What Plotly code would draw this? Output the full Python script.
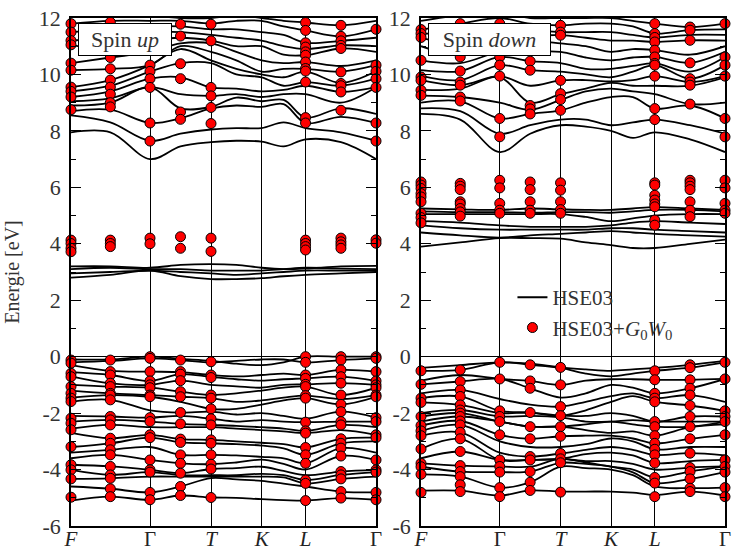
import plotly.graph_objects as go

# k-path positions (fractions of path length)
k_nodes = [0.0, 0.129, 0.259, 0.359, 0.459, 0.542, 0.625, 0.697, 0.769, 0.885, 1.0]
k_tick_vals = [0.0, 0.259, 0.459, 0.625, 0.769, 1.0]
k_tick_text = ["<i>F</i>", "Γ", "<i>T</i>", "<i>K</i>", "<i>L</i>", "Γ"]
gw_cols = [0.0, 0.129, 0.259, 0.359, 0.459, 0.769, 0.885, 1.0]

# ---------------- Spin up: HSE03 bands (values at k_nodes) ----------------
up_valence = [
    [-0.10, -0.10, 0.00, -0.08, -0.15, -0.25, -0.30, -0.20, 0.00, 0.00, 0.00],
    [-0.20, -0.15, -0.06, -0.12, -0.20, -0.15, -0.10, -0.10, -0.20, -0.12, -0.06],
    [-0.30, -0.50, -0.53, -0.55, -0.65, -0.70, -0.65, -0.60, -0.65, -0.47, -0.53],
    [-0.55, -0.65, -0.86, -0.62, -0.72, -0.80, -0.85, -0.80, -0.77, -0.71, -0.86],
    [-0.70, -0.95, -1.00, -0.85, -1.00, -1.05, -1.10, -1.00, -0.98, -0.94, -1.00],
    [-1.00, -1.06, -1.10, -1.24, -1.36, -1.30, -1.20, -1.10, -1.06, -1.36, -1.10],
    [-1.20, -1.30, -1.36, -1.42, -1.47, -1.60, -1.55, -1.45, -1.38, -1.50, -1.36],
    [-1.45, -1.36, -1.42, -1.60, -1.85, -1.85, -1.70, -1.55, -1.47, -1.69, -1.42],
    [-1.60, -1.53, -1.90, -1.98, -1.95, -2.05, -2.00, -2.10, -2.20, -1.95, -2.16],
    [-2.10, -2.12, -2.16, -2.10, -2.20, -2.30, -2.25, -2.30, -2.32, -2.30, -2.30],
    [-2.30, -2.24, -2.30, -2.38, -2.42, -2.45, -2.50, -2.55, -2.63, -2.42, -2.50],
    [-2.55, -2.42, -2.50, -2.50, -2.50, -2.55, -2.60, -2.65, -2.71, -2.60, -2.77],
    [-2.70, -2.89, -2.77, -2.92, -2.95, -3.00, -3.05, -3.10, -3.22, -2.91, -2.87],
    [-3.20, -3.07, -2.87, -3.04, -3.07, -3.10, -3.15, -3.25, -3.48, -3.07, -3.00],
    [-3.40, -3.30, -3.20, -3.48, -3.48, -3.50, -3.55, -3.60, -3.78, -3.24, -3.40],
    [-3.60, -3.48, -3.66, -3.78, -3.81, -3.75, -3.65, -3.80, -4.00, -3.52, -3.66],
    [-3.83, -3.89, -4.01, -4.13, -3.98, -3.95, -3.90, -4.05, -4.20, -4.07, -4.01],
    [-4.01, -4.19, -4.09, -4.20, -4.20, -4.20, -4.15, -4.20, -4.37, -4.19, -4.09],
    [-4.33, -4.31, -4.25, -4.25, -4.25, -4.25, -4.25, -4.28, -4.49, -4.33, -4.25],
    [-4.60, -4.68, -4.81, -4.60, -4.30, -4.35, -4.40, -4.50, -4.60, -4.78, -4.81],
    [-5.10, -4.96, -5.07, -4.92, -4.99, -5.00, -5.05, -5.08, -5.10, -5.01, -5.07],
]
up_mid = [
    [3.20, 3.20, 3.15, 3.25, 3.28, 3.25, 3.15, 3.10, 3.12, 3.20, 3.22],
    [3.10, 3.15, 3.10, 3.10, 3.05, 3.05, 3.05, 3.10, 3.15, 3.12, 3.10],
    [2.95, 3.00, 3.05, 3.00, 2.95, 2.90, 2.95, 3.00, 3.05, 3.05, 3.05],
    [2.80, 2.90, 3.05, 2.85, 2.75, 2.75, 2.78, 2.85, 2.90, 2.95, 3.00],
]
up_conduction = [
    [7.95, 7.95, 7.00, 7.45, 7.60, 7.65, 7.62, 7.45, 7.70, 7.60, 7.00],
    [8.55, 8.30, 7.65, 7.90, 8.05, 8.10, 8.10, 8.30, 8.10, 7.95, 7.65],
    [8.70, 8.75, 8.28, 8.45, 8.80, 8.90, 8.85, 8.95, 8.28, 8.50, 8.28],
    [8.90, 9.00, 9.55, 8.80, 8.85, 9.18, 9.05, 9.10, 8.47, 8.80, 8.60],
    [9.05, 9.15, 9.55, 9.30, 9.24, 9.30, 9.20, 9.30, 9.30, 9.00, 9.55],
    [9.20, 9.40, 9.85, 9.90, 9.54, 9.50, 9.40, 9.45, 9.60, 9.38, 9.55],
    [9.40, 9.60, 10.10, 10.40, 10.40, 10.00, 9.90, 9.60, 9.73, 9.60, 9.85],
    [9.55, 9.80, 10.33, 10.90, 10.50, 10.20, 10.00, 9.90, 10.10, 9.70, 10.11],
    [10.15, 10.20, 10.33, 11.00, 10.80, 10.50, 10.10, 10.20, 10.20, 10.10, 10.33],
    [10.40, 10.60, 10.80, 11.10, 11.10, 10.80, 10.50, 10.40, 10.44, 10.30, 10.50],
    [11.05, 10.90, 11.20, 11.30, 11.20, 11.00, 11.00, 10.70, 10.68, 10.92, 10.80],
    [11.20, 11.30, 11.50, 11.50, 11.40, 11.30, 11.20, 11.00, 10.90, 11.03, 11.00],
    [11.50, 11.60, 11.70, 11.70, 11.60, 11.60, 11.50, 11.40, 11.12, 11.19, 11.30],
    [11.80, 11.90, 11.90, 11.90, 11.80, 11.90, 11.90, 11.70, 11.56, 11.35, 11.60],
    [12.10, 12.20, 12.10, 12.00, 12.00, 12.10, 12.00, 11.90, 11.84, 11.74, 11.90],
]

# ---------------- Spin up: HSE03+G0W0 energies per gw column ----------------
up_gw = [
    [11.8, 11.5, 11.2, 11.05, 10.4, 10.15, 9.55, 9.4, 9.2, 8.75, 4.13, 4.01, 3.84, 3.72,
     -0.12, -0.23, -0.59, -0.71, -1.06, -1.30, -1.47, -1.59, -2.18, -2.36, -2.59, -3.19, -3.83, -4.01, -4.33, -4.98],
    [11.85, 10.6, 10.2, 9.8, 9.55, 9.3, 9.0, 8.85, 4.13, 4.01, 3.9,
     -0.12, -0.53, -0.65, -0.94, -1.06, -1.30, -1.36, -1.53, -2.12, -2.24, -2.42, -2.89, -3.07, -3.30, -3.48, -3.89, -4.19, -4.31, -4.68, -4.96],
    [11.6, 10.33, 10.11, 9.85, 9.54, 8.28, 7.64, 4.2, 4.0,
     0.0, -0.06, -0.53, -0.86, -1.0, -1.10, -1.36, -1.42, -2.16, -2.30, -2.77, -2.87, -3.66, -4.01, -4.09, -4.81, -5.07],
    [11.78, 11.36, 10.38, 9.85, 8.67, 8.41, 4.25, 3.84,
     -0.12, -0.53, -0.62, -0.85, -1.24, -1.42, -1.98, -2.38, -2.92, -3.04, -3.48, -3.78, -4.13, -4.60, -4.92],
    [11.78, 11.19, 9.54, 9.24, 8.83, 8.26, 4.2, 3.73,
     -0.18, -0.65, -0.74, -1.36, -1.47, -1.85, -2.20, -2.42, -2.95, -3.07, -3.48, -3.81, -3.98, -4.99],
    [11.84, 11.56, 11.12, 10.97, 10.80, 10.68, 10.44, 10.21, 10.12, 9.73, 8.47, 8.28, 4.13, 4.01, 3.9, 3.78,
     0.0, -0.2, -0.65, -0.77, -0.98, -1.06, -1.38, -1.47, -2.32, -2.63, -2.71, -3.22, -3.48, -3.78, -4.37, -4.49, -5.10],
    [11.74, 11.35, 11.19, 11.03, 10.92, 10.09, 9.68, 9.6, 9.38, 8.73, 4.2, 4.07, 3.96, 3.84,
     0.0, -0.12, -0.47, -0.71, -0.94, -1.36, -1.69, -1.95, -2.30, -2.42, -2.91, -3.07, -3.24, -3.52, -4.07, -4.19, -4.33, -4.78, -5.01],
    [11.6, 10.33, 10.11, 9.85, 9.54, 8.28, 7.64, 4.14, 4.02,
     0.0, -0.06, -0.53, -0.86, -1.0, -1.10, -1.36, -1.42, -2.16, -2.30, -2.77, -2.87, -3.66, -4.01, -4.09, -4.81, -5.07],
]

# ---------------- Spin down: HSE03 bands ----------------
dn_valence = [
    [-0.40, -0.30, -0.20, -0.25, -0.38, -0.45, -0.50, -0.45, -0.40, -0.29, -0.15],
    [-0.50, -0.47, -0.20, -0.29, -0.40, -0.60, -0.70, -0.60, -0.50, -0.39, -0.20],
    [-0.85, -0.65, -0.79, -0.86, -1.00, -0.85, -0.80, -0.80, -0.82, -0.82, -0.79],
    [-0.98, -0.88, -0.79, -1.12, -1.45, -1.30, -1.00, -1.10, -1.30, -1.12, -0.79],
    [-1.30, -1.18, -1.50, -1.70, -1.77, -1.60, -1.40, -1.30, -1.47, -1.36, -1.60],
    [-1.47, -1.41, -1.92, -1.98, -2.09, -1.90, -1.60, -1.40, -1.60, -1.73, -1.92],
    [-1.62, -1.71, -2.00, -1.98, -2.09, -2.10, -2.00, -2.10, -2.30, -2.12, -2.12],
    [-2.00, -1.89, -2.12, -2.10, -2.15, -2.30, -2.30, -2.25, -2.30, -2.30, -2.30],
    [-2.12, -2.00, -2.30, -2.48, -2.48, -2.40, -2.30, -2.40, -2.48, -2.48, -2.30],
    [-2.30, -2.12, -2.30, -2.48, -2.48, -2.60, -2.70, -2.65, -2.80, -2.50, -2.40],
    [-2.44, -2.28, -2.77, -2.91, -2.82, -2.80, -2.80, -2.90, -3.07, -2.91, -2.77],
    [-2.63, -2.42, -3.00, -3.20, -3.20, -3.10, -2.90, -3.00, -3.28, -3.20, -3.20],
    [-2.80, -2.68, -3.40, -3.54, -3.43, -3.30, -3.20, -3.30, -3.48, -3.42, -3.50],
    [-3.27, -2.91, -3.66, -3.66, -3.62, -3.45, -3.40, -3.50, -3.77, -3.70, -3.66],
    [-3.60, -3.36, -3.66, -3.66, -3.62, -3.70, -3.70, -3.80, -4.00, -3.93, -3.89],
    [-3.78, -3.86, -3.89, -3.90, -3.62, -3.75, -3.90, -4.00, -4.28, -4.07, -3.89],
    [-3.90, -4.07, -4.09, -4.07, -3.76, -3.80, -3.90, -4.10, -4.48, -4.33, -4.09],
    [-4.17, -4.25, -4.64, -4.45, -3.90, -3.95, -4.00, -4.20, -4.60, -4.66, -4.64],
    [-4.75, -4.75, -4.92, -4.74, -4.78, -4.78, -4.78, -4.82, -4.90, -4.78, -4.92],
]
dn_mid = [
    [5.25, 5.22, 5.20, 5.25, 5.22, 5.20, 5.20, 5.25, 5.30, 5.25, 5.20],
    [5.15, 5.12, 5.12, 5.10, 5.12, 5.12, 5.10, 5.15, 5.20, 5.20, 5.15],
    [5.05, 5.05, 5.05, 5.05, 5.05, 4.95, 4.80, 4.90, 5.00, 5.05, 5.05],
    [4.80, 4.75, 4.65, 4.60, 4.60, 4.60, 4.65, 4.75, 4.80, 4.75, 4.70],
    [4.65, 4.55, 4.50, 4.50, 4.50, 4.50, 4.55, 4.55, 4.50, 4.45, 4.40],
    [4.40, 4.30, 4.22, 4.30, 4.35, 4.40, 4.45, 4.40, 4.35, 4.30, 4.25],
    [3.90, 4.05, 4.20, 4.20, 4.18, 4.05, 3.95, 3.85, 3.85, 4.00, 4.15],
]
dn_conduction = [
    [8.60, 8.40, 7.25, 7.90, 8.20, 8.15, 8.00, 7.75, 7.95, 7.70, 7.25],
    [8.80, 8.70, 7.90, 8.20, 8.40, 8.40, 8.20, 8.30, 8.40, 8.20, 7.90],
    [9.00, 9.05, 8.44, 8.60, 8.73, 9.00, 9.20, 9.20, 8.79, 8.90, 8.44],
    [9.25, 9.20, 9.00, 8.75, 9.10, 9.40, 9.50, 9.40, 9.30, 8.95, 9.00],
    [9.45, 9.50, 9.90, 9.00, 9.30, 9.50, 9.70, 9.60, 9.60, 9.60, 9.90],
    [9.80, 9.62, 9.94, 9.60, 9.79, 9.80, 9.75, 9.80, 9.94, 9.73, 9.94],
    [9.95, 9.80, 10.33, 10.15, 10.10, 10.00, 9.90, 10.10, 10.33, 9.85, 10.33],
    [10.15, 10.12, 10.62, 10.47, 10.40, 10.20, 10.20, 10.30, 10.39, 10.10, 10.62],
    [10.50, 10.40, 10.80, 10.80, 10.80, 10.60, 10.50, 10.60, 10.62, 10.41, 10.80],
    [11.00, 10.70, 11.20, 11.20, 11.10, 11.00, 10.80, 10.90, 10.86, 10.70, 11.00],
    [11.30, 11.10, 11.50, 11.39, 11.39, 11.30, 11.20, 11.20, 11.15, 11.21, 11.20],
    [11.45, 11.50, 11.80, 11.60, 11.50, 11.50, 11.50, 11.40, 11.31, 11.40, 11.40],
    [11.59, 11.80, 12.00, 11.80, 11.74, 11.80, 11.80, 11.70, 11.45, 11.57, 11.60],
    [11.90, 12.10, 12.20, 12.00, 12.00, 12.00, 12.00, 11.90, 11.80, 11.68, 11.80],
]

# ---------------- Spin down: HSE03+G0W0 ----------------
dn_gw = [
    [11.59, 11.45, 11.31, 10.5, 9.91, 9.79, 9.44, 9.26,
     6.19, 6.08, 5.96, 5.78, 5.66, 5.49, 5.08, 4.93, 4.74,
     -0.5, -0.98, -1.47, -1.62, -2.12, -2.44, -2.63, -2.8, -3.27, -3.78, -3.9, -4.17, -4.81],
    [11.8, 10.62, 10.12, 9.73, 9.62, 9.2, 9.06,
     6.14, 6.04, 5.92, 5.49, 5.41, 5.25, 5.13, 4.98,
     -0.47, -0.88, -1.18, -1.41, -1.71, -1.89, -2.0, -2.12, -2.28, -2.42, -2.68, -2.91, -3.36, -3.86, -4.07, -4.25, -4.54, -4.78],
    [11.8, 10.62, 10.33, 9.94, 8.44, 7.79,
     6.25, 5.98, 5.43, 5.19, 5.08,
     -0.2, -0.79, -1.92, -2.12, -2.30, -2.77, -3.66, -3.89, -4.09, -4.64, -4.96],
    [10.47, 10.15, 8.9, 8.78, 8.6,
     6.19, 5.92, 5.49, 5.19, 5.08,
     -0.29, -0.86, -1.12, -1.98, -2.48, -2.91, -3.54, -3.66, -4.07, -4.45, -4.74],
    [11.74, 11.5, 11.39, 9.79, 9.32, 9.11, 8.73,
     6.16, 5.9, 5.49, 5.21, 5.08,
     -0.38, -1.0, -1.77, -2.09, -2.48, -2.82, -3.43, -3.62, -3.76, -4.8],
    [11.8, 11.45, 11.31, 11.15, 10.86, 10.62, 10.39, 10.33, 9.94, 8.79, 8.4,
     6.16, 6.08, 5.72, 5.55, 5.41, 5.31, 4.84, 4.66,
     -0.5, -0.82, -1.3, -1.47, -1.6, -2.3, -2.48, -2.8, -3.07, -3.28, -3.48, -3.77, -4.28, -4.48, -4.96],
    [11.68, 11.57, 11.21, 10.41, 9.85, 9.73, 9.62, 8.95,
     6.25, 6.16, 6.04, 5.92, 5.49, 5.19, 4.96,
     -0.29, -0.39, -0.82, -1.12, -1.36, -1.73, -2.12, -2.48, -2.91, -3.42, -3.93, -4.07, -4.33, -4.66, -4.78],
    [11.8, 10.62, 10.33, 9.94, 8.44, 7.79,
     6.25, 5.98, 5.43, 5.19, 5.08,
     -0.2, -0.79, -1.92, -2.12, -2.3, -2.77, -3.66, -3.89, -4.09, -4.64, -4.96],
]

y_tick_vals = [-6, -4, -2, 0, 2, 4, 6, 8, 10, 12]
y_tick_text = ["-6", "-4", "-2", "0", "2", "4", "6", "8", "10", "12"]

FONT = "Liberation Serif"
fig = go.Figure()

legend_line_done = False


def add_panel(bands, gw, xa, ya, show_legend):
    global legend_line_done
    for b in bands:
        fig.add_trace(go.Scatter(
            x=k_nodes, y=b, mode="lines", xaxis=xa, yaxis=ya,
            line=dict(color="black", width=1.8, shape="spline", smoothing=1.0),
            name="HSE03", showlegend=(show_legend and not legend_line_done),
            hoverinfo="skip"))
        if show_legend:
            legend_line_done = True
    xs, ys = [], []
    for kx, col in zip(gw_cols, gw):
        for e in col:
            xs.append(kx)
            ys.append(e)
    fig.add_trace(go.Scatter(
        x=xs, y=ys, mode="markers", xaxis=xa, yaxis=ya, cliponaxis=False,
        marker=dict(color="#ff0000", size=10, line=dict(color="black", width=1)),
        name="HSE03+<i>G</i><sub>0</sub><i>W</i><sub>0</sub>",
        showlegend=show_legend))


add_panel(up_valence + up_mid + up_conduction, up_gw, "x", "y", False)
add_panel(dn_valence + dn_mid + dn_conduction, dn_gw, "x2", "y2", True)

L_DOM = [0.0, 0.4664]
R_DOM = [0.5352, 1.0]

xaxis_common = dict(
    range=[0, 1], tickvals=k_tick_vals, ticktext=k_tick_text, ticks="",
    showgrid=True, gridcolor="black", gridwidth=1, zeroline=False,
    showline=True, linecolor="black", linewidth=1.5, mirror=True,
    tickfont=dict(family=FONT, size=21, color="#222"), automargin=False,
    ticklabelstandoff=-7,
)
yaxis_common = dict(
    range=[-6, 12], tickvals=y_tick_vals, ticktext=y_tick_text,
    ticks="inside", ticklen=10, tickcolor="black", tickwidth=1,
    minor=dict(ticks="inside", ticklen=5, tickcolor="black", dtick=1, tick0=-6, showgrid=False),
    showgrid=False, zeroline=True, zerolinecolor="black", zerolinewidth=1,
    showline=True, linecolor="black", linewidth=1.5, mirror="ticks",
    tickfont=dict(family=FONT, size=22, color="#333"), automargin=False,
    ticklabelstandoff=4,
)

fig.update_layout(
    width=734, height=550,
    margin=dict(l=71, r=9, t=18, b=24, autoexpand=False),
    paper_bgcolor="white", plot_bgcolor="white",
    xaxis=dict(domain=L_DOM, anchor="y", **xaxis_common),
    xaxis2=dict(domain=R_DOM, anchor="y2", **xaxis_common),
    yaxis=dict(anchor="x", title=dict(text="Energie [eV]", font=dict(family=FONT, size=20, color="#333"), standoff=14),
               **yaxis_common),
    yaxis2=dict(anchor="x2", **yaxis_common),
    legend=dict(x=0.675, y=0.49, xanchor="left", yanchor="top",
                bgcolor="rgba(0,0,0,0)", font=dict(family=FONT, size=21, color="#333"),
                itemwidth=30, tracegroupgap=0),
    showlegend=True,
    annotations=[
        dict(text="Spin <i>up</i>", xref="paper", yref="paper", x=0.0107, y=0.99,
             xanchor="left", yanchor="top", showarrow=False, bgcolor="white",
             bordercolor="black", borderwidth=1, borderpad=2, width=88, height=27,
             font=dict(family=FONT, size=22, color="#333")),
        dict(text="Spin <i>down</i>", xref="paper", yref="paper", x=0.5458, y=0.99,
             xanchor="left", yanchor="top", showarrow=False, bgcolor="white",
             bordercolor="black", borderwidth=1, borderpad=2, width=117, height=27,
             font=dict(family=FONT, size=22, color="#333")),
    ],
)

fig.write_html("out.html", config={"displayModeBar": False},
               post_script="document.body.style.margin='0';document.body.style.overflow='hidden';")
